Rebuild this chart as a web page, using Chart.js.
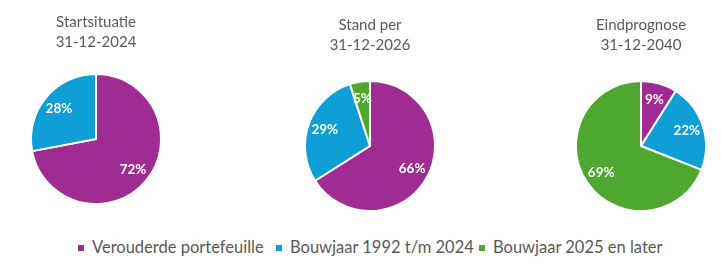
<!DOCTYPE html>
<html><head><meta charset="utf-8">
<script src="https://cdn.jsdelivr.net/npm/chart.js@4"></script>
<style>
html,body{margin:0;padding:0;background:#fff;width:721px;height:269px;overflow:hidden;position:relative;font-family:Lato,"Open Sans",sans-serif}
canvas{position:absolute}
#legend{position:absolute;top:236px;left:0;width:721px;height:22px;font-size:16.5px;color:#595959;white-space:nowrap}
.li{position:absolute;top:0;line-height:22px}
.sw{display:inline-block;width:6px;height:6px;margin-right:8px;vertical-align:middle;position:relative;top:-1px}
</style></head><body>
<canvas id="c1" style="left:0;top:0" width="186" height="205"></canvas>
<canvas id="c2" style="left:270px;top:0" width="200" height="212"></canvas>
<canvas id="c3" style="left:560px;top:0" width="160" height="212"></canvas>
<div id="legend"></div>
<script>
const categories = ["Verouderde portefeuille", "Bouwjaar 1992 t/m 2024", "Bouwjaar 2025 en later"];
const colors = ["#A02B93", "#0F9ED5", "#4EA72E"];
const titles = [["Startsituatie", "31-12-2024"], ["Stand per", "31-12-2026"], ["Eindprognose", "31-12-2040"]];
const values2024 = [72, 28, 0];
const values2026 = [66, 29, 5];
const values2040 = [9, 22, 69];

const labelPlugin = {
  id: 'pctLabels',
  afterDatasetsDraw(chart) {
    const ctx = chart.ctx;
    const meta = chart.getDatasetMeta(0);
    const data = chart.data.datasets[0].data;
    ctx.save();
    ctx.fillStyle = '#ffffff';
    ctx.font = 'bold 13.5px Lato, "Open Sans", sans-serif';
    ctx.textAlign = 'center';
    ctx.textBaseline = 'middle';
    meta.data.forEach((arc, i) => {
      if (!data[i]) return;
      const p = arc.getProps(['x', 'y', 'startAngle', 'endAngle', 'outerRadius'], true);
      const mid = (p.startAngle + p.endAngle) / 2;
      const r = p.outerRadius * 0.74;
      ctx.fillText(data[i] + '%', p.x + Math.cos(mid) * r, p.y + Math.sin(mid) * r);
    });
    ctx.restore();
  }
};

function makePie(id, values, title, pad, titlePad) {
  new Chart(document.getElementById(id), {
    type: 'pie',
    data: { labels: categories, datasets: [{ data: values, backgroundColor: colors, borderColor: '#ffffff', borderWidth: 2 }] },
    options: {
      responsive: false, animation: false, events: [],
      layout: { padding: pad },
      plugins: {
        legend: { display: false },
        tooltip: { enabled: false },
        title: { display: true, text: title, color: '#595959', font: { family: 'Lato, "Open Sans", sans-serif', size: 15, weight: 'normal', lineHeight: 1.33 }, padding: titlePad }
      }
    },
    plugins: [labelPlugin]
  });
}
makePie('c1', values2024, titles[0], { left: 30, right: 24, top: 0, bottom: 0 }, { top: 12, bottom: 21 });
makePie('c2', values2026, titles[1], { left: 34, right: 34, top: 0, bottom: 0 }, { top: 15, bottom: 25 });
makePie('c3', values2040, titles[2], { left: 15, right: 13, top: 0, bottom: 0 }, { top: 15, bottom: 25 });

const legendX = [78, 276, 479];
const lg = document.getElementById('legend');
categories.forEach((c, i) => {
  const d = document.createElement('div');
  d.className = 'li';
  d.style.left = legendX[i] + 'px';
  d.innerHTML = '<span class="sw" style="background:' + colors[i] + '"></span>' + c;
  lg.appendChild(d);
});
</script>
</body></html>
